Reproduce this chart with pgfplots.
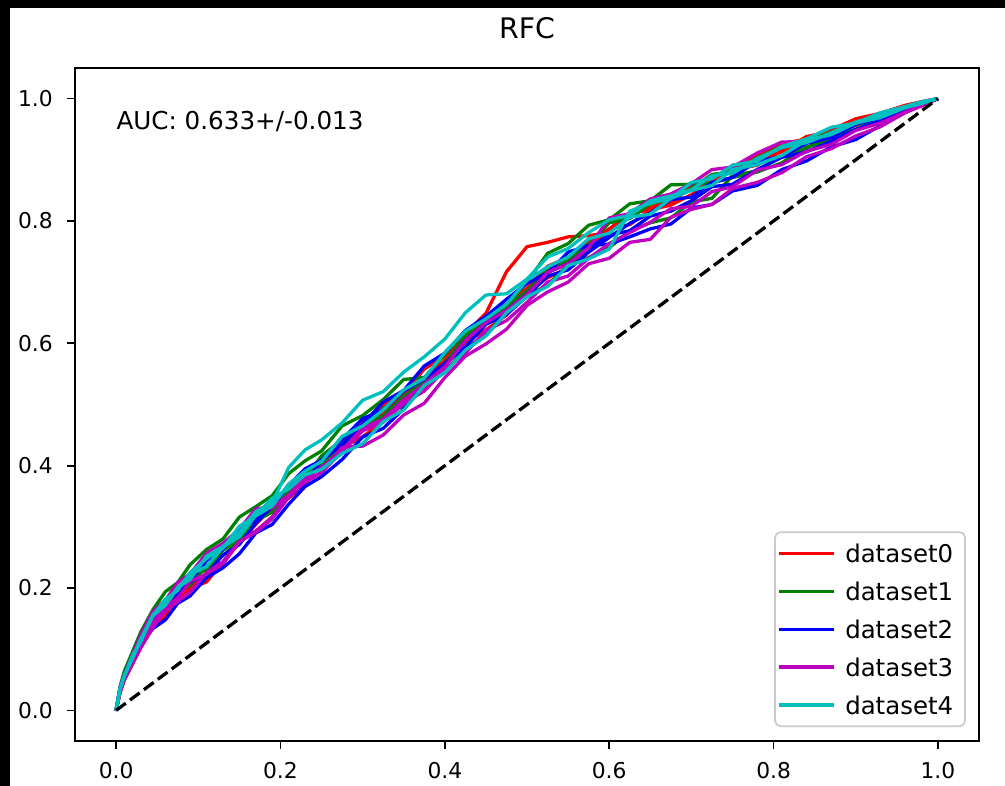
\documentclass[border=0pt]{standalone}
\usepackage{fontspec}
\setmainfont{DejaVu Sans}
\usepackage{pgfplots}
\usepackage{pgfplotstable}
\pgfplotsset{compat=1.18}

\definecolor{mplgreen}{rgb}{0,0.5,0}
\definecolor{mplmag}{rgb}{0.75,0,0.75}
\definecolor{mplcyan}{rgb}{0,0.75,0.75}

% ROC curves, three folds per dataset
\pgfplotstableread{
x r1 r2 r3 g1 g2 g3 b1 b2 b3 m1 m2 m3 c1 c2 c3
0 0 0 0 0 0 0 0 0 0 0 0 0 0 0 0
0.005 0.036 0.030 0.036 0.040 0.034 0.036 0.033 0.033 0.036 0.033 0.039 0.030 0.037 0.035 0.037
0.01 0.054 0.050 0.054 0.064 0.052 0.054 0.050 0.051 0.058 0.054 0.058 0.050 0.056 0.057 0.056
0.02 0.087 0.076 0.084 0.096 0.081 0.087 0.079 0.083 0.086 0.081 0.091 0.076 0.086 0.085 0.090
0.03 0.109 0.104 0.114 0.128 0.111 0.109 0.108 0.104 0.114 0.110 0.123 0.102 0.117 0.115 0.112
0.045 0.140 0.137 0.137 0.165 0.148 0.154 0.134 0.148 0.150 0.144 0.162 0.136 0.155 0.155 0.157
0.06 0.153 0.162 0.152 0.194 0.164 0.169 0.148 0.162 0.179 0.170 0.180 0.163 0.172 0.182 0.173
0.075 0.179 0.175 0.179 0.209 0.192 0.196 0.175 0.189 0.195 0.184 0.209 0.178 0.201 0.196 0.200
0.09 0.199 0.202 0.191 0.238 0.205 0.217 0.187 0.210 0.211 0.211 0.223 0.193 0.214 0.225 0.222
0.11 0.210 0.223 0.222 0.263 0.237 0.230 0.217 0.222 0.245 0.223 0.257 0.225 0.252 0.248 0.235
0.13 0.242 0.240 0.238 0.280 0.253 0.262 0.233 0.254 0.263 0.240 0.273 0.243 0.268 0.265 0.267
0.15 0.274 0.276 0.281 0.316 0.276 0.279 0.256 0.271 0.296 0.276 0.296 0.276 0.291 0.301 0.284
0.17 0.304 0.293 0.315 0.333 0.310 0.314 0.290 0.306 0.311 0.293 0.330 0.291 0.325 0.318 0.319
0.19 0.332 0.316 0.329 0.351 0.324 0.342 0.304 0.334 0.333 0.316 0.331 0.313 0.339 0.334 0.347
0.21 0.347 0.352 0.362 0.387 0.357 0.357 0.337 0.349 0.368 0.352 0.352 0.348 0.397 0.370 0.362
0.23 0.370 0.373 0.391 0.408 0.386 0.380 0.366 0.372 0.395 0.373 0.381 0.375 0.426 0.391 0.385
0.25 0.406 0.389 0.407 0.424 0.402 0.416 0.382 0.408 0.409 0.389 0.397 0.389 0.442 0.407 0.394
0.275 0.447 0.430 0.435 0.465 0.430 0.442 0.410 0.434 0.443 0.430 0.425 0.423 0.470 0.448 0.420
0.30 0.463 0.447 0.472 0.482 0.467 0.458 0.447 0.468 0.477 0.432 0.462 0.457 0.507 0.465 0.436
0.325 0.499 0.473 0.486 0.508 0.481 0.494 0.461 0.504 0.491 0.450 0.476 0.471 0.521 0.491 0.472
0.35 0.518 0.506 0.518 0.541 0.513 0.495 0.493 0.523 0.522 0.483 0.508 0.502 0.553 0.524 0.491
0.375 0.558 0.525 0.543 0.544 0.538 0.533 0.533 0.563 0.542 0.502 0.533 0.522 0.578 0.543 0.531
0.40 0.579 0.567 0.572 0.582 0.567 0.554 0.562 0.584 0.567 0.544 0.562 0.557 0.607 0.585 0.552
0.425 0.616 0.602 0.615 0.617 0.610 0.591 0.605 0.621 0.594 0.579 0.605 0.584 0.650 0.620 0.589
0.45 0.649 0.622 0.644 0.637 0.639 0.614 0.634 0.644 0.631 0.599 0.634 0.621 0.679 0.640 0.612
0.475 0.717 0.646 0.664 0.661 0.659 0.652 0.654 0.672 0.647 0.623 0.654 0.637 0.681 0.664 0.650
0.50 0.758 0.685 0.690 0.700 0.685 0.678 0.680 0.698 0.677 0.662 0.680 0.667 0.705 0.703 0.676
0.525 0.765 0.707 0.726 0.747 0.721 0.695 0.716 0.715 0.710 0.684 0.716 0.700 0.741 0.725 0.693
0.55 0.774 0.723 0.740 0.763 0.735 0.729 0.730 0.749 0.720 0.700 0.730 0.710 0.755 0.741 0.727
0.575 0.776 0.753 0.766 0.793 0.761 0.740 0.756 0.760 0.749 0.730 0.756 0.739 0.781 0.771 0.738
0.60 0.781 0.787 0.787 0.802 0.797 0.756 0.777 0.762 0.773 0.739 0.805 0.763 0.802 0.780 0.754
0.625 0.809 0.813 0.794 0.828 0.804 0.784 0.784 0.774 0.796 0.765 0.812 0.781 0.809 0.806 0.816
0.65 0.822 0.818 0.818 0.833 0.828 0.797 0.808 0.787 0.813 0.770 0.836 0.798 0.833 0.811 0.829
0.675 0.830 0.844 0.826 0.859 0.836 0.805 0.816 0.795 0.835 0.806 0.844 0.820 0.841 0.837 0.837
0.70 0.856 0.857 0.843 0.860 0.853 0.831 0.833 0.821 0.839 0.819 0.861 0.824 0.851 0.850 0.863
0.725 0.862 0.865 0.866 0.862 0.876 0.837 0.856 0.827 0.863 0.827 0.884 0.848 0.874 0.858 0.869
0.75 0.884 0.891 0.885 0.871 0.880 0.874 0.860 0.849 0.871 0.853 0.888 0.856 0.878 0.884 0.891
0.78 0.891 0.899 0.908 0.880 0.903 0.882 0.884 0.858 0.898 0.863 0.911 0.883 0.902 0.892 0.898
0.81 0.915 0.913 0.926 0.895 0.922 0.906 0.904 0.884 0.905 0.879 0.929 0.892 0.920 0.907 0.922
0.84 0.928 0.938 0.934 0.921 0.930 0.919 0.913 0.898 0.927 0.905 0.930 0.914 0.928 0.932 0.934
0.87 0.947 0.946 0.949 0.931 0.945 0.940 0.930 0.921 0.936 0.918 0.942 0.925 0.944 0.941 0.953
0.90 0.956 0.964 0.967 0.958 0.957 0.949 0.950 0.933 0.958 0.939 0.960 0.948 0.962 0.960 0.960
0.93 0.973 0.973 0.976 0.968 0.968 0.968 0.963 0.956 0.968 0.954 0.971 0.960 0.972 0.969 0.977
0.96 0.984 0.987 0.989 0.984 0.983 0.981 0.980 0.977 0.984 0.977 0.985 0.978 0.986 0.985 0.987
0.98 0.993 0.994 0.995 0.992 0.992 0.991 0.990 0.989 0.992 0.988 0.993 0.989 0.994 0.992 0.995
1 1 1 1 1 1 1 1 1 1 1 1 1 1 1 1
}\roc

\begin{document}
\begin{tikzpicture}
% screenshot frame: black strip on top and left
\fill[black] (-34.4pt,-20.6pt) rectangle (426.6pt,339.9pt);
\fill[white] (-29.8pt,-20.6pt) rectangle (426.6pt,336.2pt);
\begin{axis}[
    at={(0pt,0pt)}, anchor=south west,
    scale only axis,
    width=414.7pt, height=308.7pt,
    xmin=-0.05, xmax=1.05, ymin=-0.05, ymax=1.05,
    xtick={0,0.2,0.4,0.6,0.8,1},
    ytick={0,0.2,0.4,0.6,0.8,1},
    xticklabels={0.0,0.2,0.4,0.6,0.8,1.0},
    yticklabels={0.0,0.2,0.4,0.6,0.8,1.0},
    tick align=outside, tick pos=left,
    major tick length=3.5pt,
    every tick/.style={black, line width=0.8pt},
    axis line style={line width=0.8pt},
    ticklabel style={font=\fontsize{10}{12}\selectfont, inner sep=0pt},
    xticklabel style={yshift=-6pt},
    yticklabel style={xshift=-6.5pt},
    title={RFC},
    title style={at={(0.5,1)}, anchor=base, yshift=7.5pt, inner sep=0pt,
                 font=\fontsize{13}{15}\selectfont},
    legend cell align=left,
    legend style={at={(1,0)}, anchor=south east, xshift=-6pt, yshift=6.4pt,
                  draw=black!20, line width=0.8pt, rounded corners=2.5pt, fill=white,
                  font=\fontsize{11.2}{13}\selectfont,
                  inner xsep=0.9pt, inner ysep=3.45pt, row sep=4.9pt,
                  nodes={inner xsep=4.6pt, inner ysep=2pt, text height=8.5pt, text depth=0pt}},
    legend image code/.code={\draw[#1] (0pt,0pt) -- (25.2pt,0pt);},
    every axis plot/.append style={line width=1.5pt, line join=round},
]
\addplot[red] table[x=x,y=r1]{\roc}; \addlegendentry{dataset0}
\addplot[red,forget plot] table[x=x,y=r2]{\roc};
\addplot[red,forget plot] table[x=x,y=r3]{\roc};
\addplot[mplgreen] table[x=x,y=g1]{\roc}; \addlegendentry{dataset1}
\addplot[mplgreen,forget plot] table[x=x,y=g2]{\roc};
\addplot[mplgreen,forget plot] table[x=x,y=g3]{\roc};
\addplot[blue] table[x=x,y=b1]{\roc}; \addlegendentry{dataset2}
\addplot[blue,forget plot] table[x=x,y=b2]{\roc};
\addplot[blue,forget plot] table[x=x,y=b3]{\roc};
\addplot[mplmag] table[x=x,y=m1]{\roc}; \addlegendentry{dataset3}
\addplot[mplmag,forget plot] table[x=x,y=m2]{\roc};
\addplot[mplmag,forget plot] table[x=x,y=m3]{\roc};
\addplot[mplcyan] table[x=x,y=c1]{\roc}; \addlegendentry{dataset4}
\addplot[mplcyan,forget plot] table[x=x,y=c2]{\roc};
\addplot[mplcyan,forget plot] table[x=x,y=c3]{\roc};
\addplot[black, dash pattern=on 5.55pt off 2.4pt, forget plot] coordinates {(0,0) (1,1)};
\node[anchor=base west, inner sep=0pt, font=\fontsize{11.3}{13}\selectfont]
    at (axis cs:0,0.95) {AUC: 0.633+/-0.013};
\end{axis}
\end{tikzpicture}
\end{document}
